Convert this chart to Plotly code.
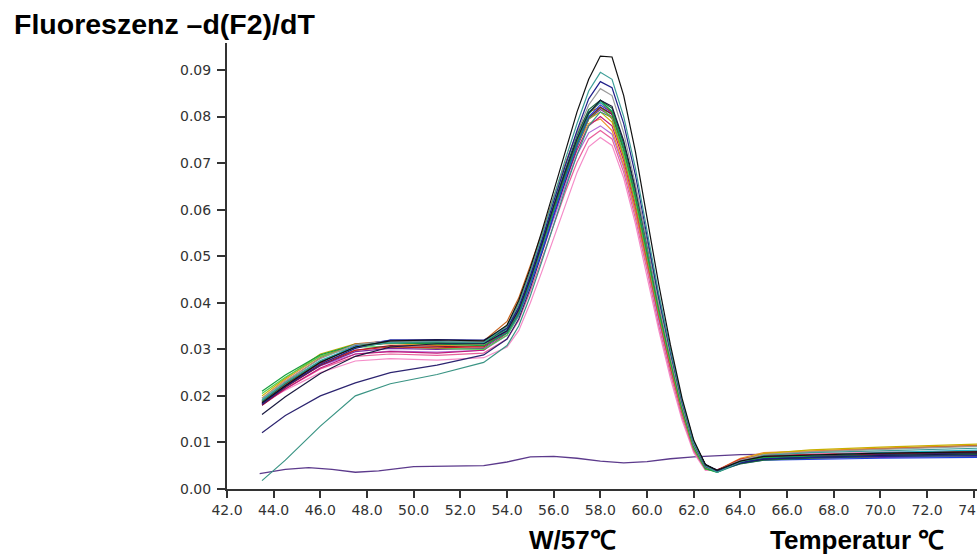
import plotly.graph_objects as go

# Shared temperature grid (°C) for the melt curves
temps = [43.5, 44.5, 46, 47.5, 49, 51, 53, 54, 54.5, 55, 55.5, 56, 56.5, 57, 57.5,
         58, 58.5, 59, 59.5, 60, 60.5, 61, 61.5, 62, 62.5, 63, 64, 65, 67, 70, 74.5]

# -d(F2)/dT values per sample
s_lightpink = [0.0185, 0.0212, 0.0250, 0.0275, 0.0280, 0.0277, 0.0282, 0.0305, 0.0340, 0.0400, 0.0468, 0.0540, 0.0612, 0.0680, 0.0735, 0.0755, 0.0738, 0.0668, 0.0570, 0.0458, 0.0342, 0.0238, 0.0148, 0.0078, 0.0040, 0.0041, 0.0062, 0.0072, 0.0076, 0.0079, 0.0082]
s_pink = [0.0182, 0.0215, 0.0258, 0.0285, 0.0290, 0.0287, 0.0292, 0.0322, 0.0362, 0.0425, 0.0495, 0.0568, 0.0638, 0.0702, 0.0752, 0.0770, 0.0752, 0.0680, 0.0582, 0.0470, 0.0352, 0.0248, 0.0155, 0.0082, 0.0042, 0.0040, 0.0060, 0.0068, 0.0070, 0.0073, 0.0076]
s_violet = [0.0188, 0.0222, 0.0265, 0.0290, 0.0296, 0.0294, 0.0298, 0.0330, 0.0372, 0.0436, 0.0508, 0.0582, 0.0652, 0.0718, 0.0765, 0.0780, 0.0762, 0.0690, 0.0592, 0.0480, 0.0362, 0.0256, 0.0160, 0.0084, 0.0043, 0.0039, 0.0058, 0.0064, 0.0067, 0.0070, 0.0073]
s_orange = [0.0195, 0.0235, 0.0285, 0.0310, 0.0312, 0.0308, 0.0310, 0.0352, 0.0400, 0.0465, 0.0535, 0.0608, 0.0675, 0.0738, 0.0785, 0.0795, 0.0770, 0.0695, 0.0595, 0.0482, 0.0365, 0.0258, 0.0162, 0.0085, 0.0043, 0.0040, 0.0066, 0.0078, 0.0082, 0.0088, 0.0094]
s_magenta = [0.0180, 0.0215, 0.0260, 0.0290, 0.0295, 0.0292, 0.0298, 0.0335, 0.0378, 0.0442, 0.0515, 0.0590, 0.0660, 0.0728, 0.0780, 0.0800, 0.0780, 0.0705, 0.0605, 0.0490, 0.0370, 0.0262, 0.0165, 0.0086, 0.0043, 0.0040, 0.0062, 0.0070, 0.0072, 0.0075, 0.0078]
s_olive = [0.0200, 0.0238, 0.0290, 0.0312, 0.0314, 0.0310, 0.0312, 0.0350, 0.0398, 0.0465, 0.0538, 0.0612, 0.0682, 0.0745, 0.0795, 0.0810, 0.0788, 0.0712, 0.0612, 0.0498, 0.0378, 0.0270, 0.0170, 0.0090, 0.0045, 0.0039, 0.0064, 0.0076, 0.0084, 0.0090, 0.0097]
s_purple = [0.0183, 0.0220, 0.0265, 0.0295, 0.0302, 0.0300, 0.0302, 0.0338, 0.0382, 0.0448, 0.0522, 0.0600, 0.0672, 0.0740, 0.0795, 0.0815, 0.0800, 0.0728, 0.0630, 0.0515, 0.0395, 0.0285, 0.0182, 0.0097, 0.0049, 0.0041, 0.0058, 0.0064, 0.0066, 0.0068, 0.0070]
s_tealLow = [0.0018, 0.0062, 0.0135, 0.0200, 0.0226, 0.0246, 0.0272, 0.0308, 0.0350, 0.0415, 0.0490, 0.0570, 0.0645, 0.0718, 0.0780, 0.0810, 0.0798, 0.0730, 0.0635, 0.0520, 0.0400, 0.0290, 0.0186, 0.0100, 0.0052, 0.0036, 0.0055, 0.0064, 0.0068, 0.0072, 0.0076]
s_navyLow = [0.0121, 0.0158, 0.0200, 0.0228, 0.0250, 0.0266, 0.0288, 0.0322, 0.0365, 0.0432, 0.0508, 0.0588, 0.0662, 0.0735, 0.0795, 0.0820, 0.0805, 0.0735, 0.0638, 0.0522, 0.0400, 0.0290, 0.0186, 0.0100, 0.0052, 0.0040, 0.0058, 0.0066, 0.0070, 0.0074, 0.0078]
s_brown = [0.0190, 0.0230, 0.0282, 0.0312, 0.0318, 0.0316, 0.0318, 0.0360, 0.0410, 0.0478, 0.0550, 0.0628, 0.0700, 0.0765, 0.0810, 0.0820, 0.0795, 0.0715, 0.0612, 0.0495, 0.0375, 0.0268, 0.0168, 0.0088, 0.0044, 0.0038, 0.0062, 0.0074, 0.0080, 0.0086, 0.0094]
s_lime = [0.0205, 0.0240, 0.0285, 0.0305, 0.0306, 0.0302, 0.0300, 0.0330, 0.0372, 0.0440, 0.0515, 0.0595, 0.0668, 0.0738, 0.0795, 0.0820, 0.0798, 0.0720, 0.0620, 0.0502, 0.0380, 0.0272, 0.0170, 0.0088, 0.0043, 0.0037, 0.0060, 0.0066, 0.0068, 0.0070, 0.0072]
s_maroon = [0.0180, 0.0218, 0.0266, 0.0298, 0.0308, 0.0306, 0.0305, 0.0340, 0.0385, 0.0452, 0.0525, 0.0602, 0.0675, 0.0742, 0.0798, 0.0820, 0.0805, 0.0732, 0.0635, 0.0520, 0.0398, 0.0288, 0.0185, 0.0099, 0.0050, 0.0040, 0.0060, 0.0068, 0.0072, 0.0076, 0.0080]
s_blue = [0.0185, 0.0222, 0.0272, 0.0308, 0.0320, 0.0318, 0.0312, 0.0335, 0.0375, 0.0440, 0.0512, 0.0592, 0.0668, 0.0740, 0.0800, 0.0825, 0.0808, 0.0735, 0.0635, 0.0518, 0.0395, 0.0285, 0.0182, 0.0098, 0.0050, 0.0040, 0.0055, 0.0062, 0.0064, 0.0066, 0.0068]
s_red = [0.0188, 0.0225, 0.0270, 0.0298, 0.0305, 0.0303, 0.0306, 0.0345, 0.0392, 0.0458, 0.0532, 0.0610, 0.0682, 0.0750, 0.0808, 0.0830, 0.0808, 0.0732, 0.0630, 0.0512, 0.0390, 0.0280, 0.0178, 0.0095, 0.0048, 0.0040, 0.0064, 0.0072, 0.0074, 0.0078, 0.0082]
s_cyan = [0.0192, 0.0228, 0.0276, 0.0306, 0.0314, 0.0313, 0.0312, 0.0342, 0.0388, 0.0455, 0.0530, 0.0610, 0.0685, 0.0755, 0.0810, 0.0830, 0.0812, 0.0738, 0.0640, 0.0522, 0.0400, 0.0290, 0.0186, 0.0100, 0.0051, 0.0038, 0.0056, 0.0066, 0.0072, 0.0078, 0.0084]
s_green = [0.0210, 0.0245, 0.0288, 0.0310, 0.0315, 0.0312, 0.0308, 0.0335, 0.0378, 0.0448, 0.0522, 0.0600, 0.0675, 0.0745, 0.0805, 0.0835, 0.0810, 0.0730, 0.0628, 0.0508, 0.0385, 0.0275, 0.0172, 0.0090, 0.0044, 0.0036, 0.0058, 0.0068, 0.0070, 0.0072, 0.0075]
s_darkgreen = [0.0188, 0.0226, 0.0274, 0.0304, 0.0315, 0.0315, 0.0314, 0.0345, 0.0392, 0.0460, 0.0535, 0.0615, 0.0690, 0.0760, 0.0815, 0.0835, 0.0818, 0.0742, 0.0642, 0.0525, 0.0402, 0.0292, 0.0188, 0.0101, 0.0052, 0.0039, 0.0054, 0.0062, 0.0066, 0.0070, 0.0074]
s_darkLow = [0.0160, 0.0198, 0.0248, 0.0285, 0.0305, 0.0312, 0.0312, 0.0340, 0.0385, 0.0452, 0.0528, 0.0608, 0.0682, 0.0752, 0.0808, 0.0835, 0.0822, 0.0748, 0.0648, 0.0530, 0.0408, 0.0296, 0.0190, 0.0102, 0.0053, 0.0040, 0.0056, 0.0064, 0.0068, 0.0072, 0.0076]
s_gray = [0.0195, 0.0232, 0.0280, 0.0310, 0.0318, 0.0317, 0.0316, 0.0350, 0.0395, 0.0462, 0.0540, 0.0620, 0.0695, 0.0765, 0.0825, 0.0860, 0.0845, 0.0765, 0.0655, 0.0530, 0.0400, 0.0285, 0.0180, 0.0095, 0.0047, 0.0039, 0.0062, 0.0074, 0.0080, 0.0085, 0.0092]
s_navy = [0.0182, 0.0220, 0.0268, 0.0302, 0.0320, 0.0321, 0.0320, 0.0345, 0.0390, 0.0458, 0.0535, 0.0618, 0.0695, 0.0770, 0.0838, 0.0875, 0.0862, 0.0785, 0.0675, 0.0545, 0.0412, 0.0295, 0.0186, 0.0098, 0.0048, 0.0038, 0.0056, 0.0065, 0.0068, 0.0070, 0.0072]
s_teal = [0.0190, 0.0228, 0.0275, 0.0305, 0.0315, 0.0316, 0.0315, 0.0350, 0.0398, 0.0468, 0.0545, 0.0628, 0.0708, 0.0785, 0.0855, 0.0895, 0.0880, 0.0800, 0.0690, 0.0555, 0.0420, 0.0300, 0.0190, 0.0100, 0.0050, 0.0036, 0.0058, 0.0072, 0.0078, 0.0082, 0.0088]
s_black = [0.0185, 0.0222, 0.0272, 0.0305, 0.0318, 0.0320, 0.0318, 0.0352, 0.0405, 0.0475, 0.0555, 0.0640, 0.0725, 0.0810, 0.0880, 0.0930, 0.0928, 0.0845, 0.0725, 0.0580, 0.0440, 0.0310, 0.0195, 0.0105, 0.0052, 0.0040, 0.0060, 0.0070, 0.0073, 0.0077, 0.0080]

# Flat negative-control curve, its own temperature grid
ctrl_temps = [43.4, 44.5, 45.5, 46.5, 47.5, 48.5, 50, 51.5, 53, 54, 55, 56, 57, 58,
              59, 60, 61, 62, 63, 64, 66, 70, 74.5]
ctrl_vals = [0.0033, 0.0042, 0.0046, 0.0042, 0.0036, 0.0039, 0.0048, 0.0049, 0.0050, 0.0058,
             0.0069, 0.0070, 0.0066, 0.0060, 0.0056, 0.0059, 0.0065, 0.0069, 0.0071, 0.0074,
             0.0075, 0.0076, 0.0078]

x_ticks = [42.0, 44.0, 46.0, 48.0, 50.0, 52.0, 54.0, 56.0, 58.0, 60.0, 62.0, 64.0, 66.0,
           68.0, 70.0, 72.0, 74.0]
y_ticks = [0.00, 0.01, 0.02, 0.03, 0.04, 0.05, 0.06, 0.07, 0.08, 0.09]

series = [
    (s_lightpink, "#f58cc8"), (s_pink, "#e8609c"), (s_violet, "#b070d8"),
    (s_orange, "#f09030"), (s_magenta, "#c0187a"), (s_olive, "#c8b000"),
    (s_purple, "#7a2aa0"), (s_tealLow, "#3a9484"), (s_navyLow, "#2c2470"),
    (s_brown, "#c8641e"), (s_lime, "#50d050"), (s_maroon, "#801830"),
    (s_blue, "#2040e0"), (s_red, "#d42020"), (s_cyan, "#20b8c8"),
    (s_green, "#18a040"), (s_darkgreen, "#1e6e3c"), (s_darkLow, "#1a1a40"),
    (s_gray, "#9a9a9a"), (s_navy, "#20208a"), (s_teal, "#3d9e98"),
    (s_black, "#111111"),
]

fig = go.Figure()
fig.add_trace(go.Scatter(x=ctrl_temps, y=ctrl_vals, mode="lines",
                         line=dict(color="#5c3a8c", width=1.3), showlegend=False))
for vals, col in series:
    fig.add_trace(go.Scatter(x=temps, y=vals, mode="lines",
                             line=dict(color=col, width=1.2), showlegend=False))

tick_font = dict(family="DejaVu Sans", size=14, color="#333333")

fig.update_layout(
    width=977, height=557,
    margin=dict(l=227, r=0, t=43, b=68),
    paper_bgcolor="white", plot_bgcolor="white",
    xaxis=dict(range=[42, 74.14], tickvals=x_ticks,
               ticktext=[f"{v:.1f}" for v in x_ticks], automargin=False,
               showgrid=False, zeroline=False, showline=True, linecolor="#333333",
               linewidth=2, ticks="outside", ticklen=7, tickcolor="#333333",
               tickwidth=1.5, tickfont=tick_font, ticklabelstandoff=0,
               ticklabeloverflow="allow"),
    yaxis=dict(range=[0, 0.0958], tickvals=y_ticks,
               ticktext=[f"{v:.2f}" for v in y_ticks], automargin=False,
               showgrid=False, zeroline=False, showline=True, linecolor="#333333",
               linewidth=2, ticks="outside", ticklen=8, tickcolor="#333333",
               tickwidth=1.5, tickfont=tick_font, ticklabelstandoff=3),
    annotations=[
        dict(text="<b>Fluoreszenz –d(F2)/dT</b>", xref="paper", yref="paper",
             x=(12 - 227) / 750, y=(489 - 24) / 446, xanchor="left", yanchor="middle",
             showarrow=False, font=dict(family="Liberation Sans", size=28.5, color="#000000")),
        dict(text="<b>W/57℃</b>", xref="paper", yref="paper",
             x=(527 - 227) / 750, y=(489 - 540) / 446, xanchor="left", yanchor="middle",
             showarrow=False, font=dict(family="Liberation Sans", size=26, color="#000000")),
        dict(text="<b>Temperatur ℃</b>", xref="paper", yref="paper",
             x=(768 - 227) / 750, y=(489 - 540) / 446, xanchor="left", yanchor="middle",
             showarrow=False, font=dict(family="Liberation Sans", size=26, color="#000000")),
    ],
)

fig.write_html("out.html")
